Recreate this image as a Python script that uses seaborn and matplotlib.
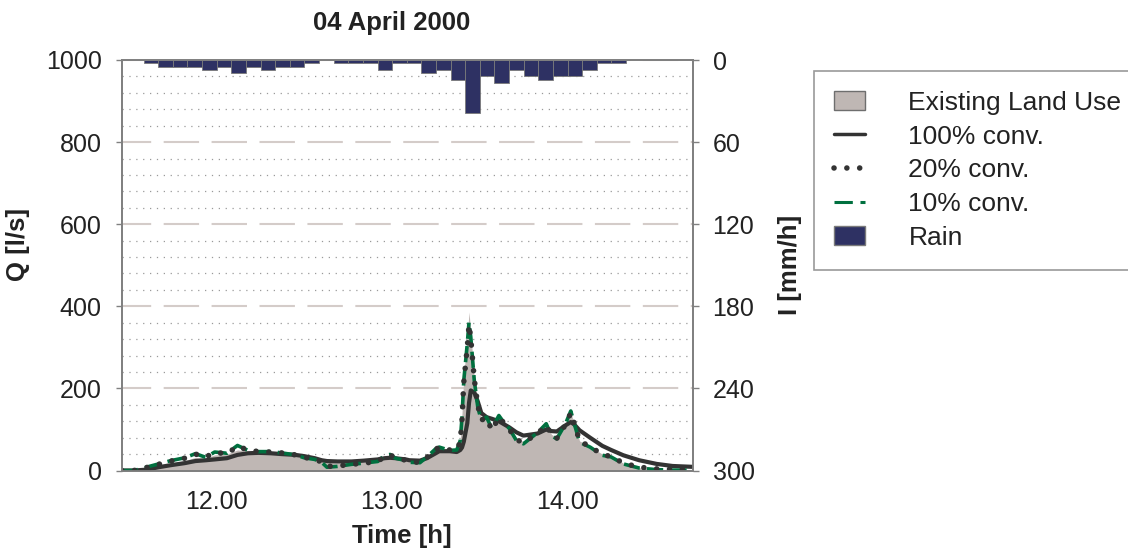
import matplotlib

matplotlib.use("Agg")

import matplotlib.pyplot as plt
import matplotlib.transforms as mtransforms
import pandas as pd
import seaborn as sns
from matplotlib.lines import Line2D
from matplotlib.patches import Patch
from matplotlib.ticker import FormatStrFormatter, MultipleLocator

TITLE = "04 April 2000"

# runoff hydrograph: time in decimal hours, discharge Q in l/s
time_h = [11.50, 11.57, 11.64, 11.71, 11.78, 11.86, 11.92, 11.98, 12.03, 12.10,
          12.16, 12.22, 12.28, 12.35, 12.41, 12.49, 12.54, 12.60, 12.64, 12.67,
          12.73, 12.81, 12.88, 12.96, 13.00, 13.03, 13.06, 13.12, 13.14, 13.20,
          13.24, 13.29, 13.31, 13.37, 13.41, 13.43, 13.44, 13.45, 13.47, 13.48,
          13.49, 13.51, 13.53, 13.55, 13.58, 13.61, 13.65, 13.67, 13.71, 13.75,
          13.79, 13.87, 13.92, 13.95, 13.98, 14.03, 14.06, 14.08, 14.11, 14.17,
          14.24, 14.29, 14.36, 14.45, 14.55, 14.64, 14.75]

existing_land_use = [0, 0, 4, 10, 17, 24, 32, 30, 38, 40,
                     50, 47, 45, 44, 42, 38, 33, 28, 24, 20,
                     18, 19, 21, 24, 33, 35, 30, 25, 22, 21,
                     32, 50, 54, 49, 50, 75, 140, 230, 330, 386,
                     335, 225, 160, 128, 128, 108, 130, 122, 104, 80,
                     70, 90, 112, 88, 80, 112, 140, 115, 72, 58,
                     40, 34, 18, 7, 3, 2, 2]

conv_100 = [0, 0, 2, 8, 13, 18, 23, 25, 27, 30,
            38, 42, 43, 42, 40, 38, 35, 30, 25, 23,
            22, 22, 24, 27, 30, 31, 30, 27, 25, 24,
            30, 42, 47, 47, 45, 50, 56, 70, 115, 165,
            195, 190, 168, 140, 130, 126, 120, 115, 105, 93,
            85, 90, 100, 96, 95, 110, 118, 112, 98, 80,
            60, 50, 37, 25, 16, 11, 9]

conv_20 = [0, 0, 7, 15, 23, 30, 40, 33, 44, 41,
           59, 50, 46, 45, 43, 38, 32, 27, 21, 10,
           11, 15, 18, 22, 35, 38, 31, 25, 21, 20,
           32, 52, 56, 50, 50, 70, 125, 215, 300, 355,
           322, 222, 158, 123, 128, 98, 130, 120, 100, 75,
           68, 90, 110, 86, 78, 112, 140, 115, 72, 58,
           39, 34, 18, 8, 4, 3, 3]

conv_10 = [0, 0, 8, 16, 24, 31, 41, 32, 45, 42,
           61, 49, 46, 46, 43, 38, 31, 27, 20, 8,
           10, 15, 18, 22, 37, 39, 30, 24, 20, 19,
           33, 53, 57, 49, 50, 73, 130, 219, 309, 362,
           325, 219, 154, 122, 130, 102, 134, 122, 102, 73,
           65, 92, 114, 85, 77, 114, 145, 114, 69, 57,
           37, 33, 16, 6, 2, 1, 1]

# 5-minute rain intensity in mm/h
rain_clock = ["11:40", "11:45", "11:50", "11:55", "12:00", "12:05", "12:10",
              "12:15", "12:20", "12:25", "12:30", "12:35", "12:40", "12:45",
              "12:50", "12:55", "13:00", "13:05", "13:10", "13:15", "13:20",
              "13:25", "13:30", "13:35", "13:40", "13:45", "13:50", "13:55",
              "14:00", "14:05", "14:10", "14:15", "14:20"]
rain_mmh = [2.4, 4.8, 4.8, 4.8, 7.2, 4.8, 9.6, 4.8, 7.2, 4.8, 4.8, 2.4, 0.0,
            2.4, 2.4, 2.4, 7.2, 2.4, 2.4, 9.6, 7.2, 14.4, 38.4, 12.0, 16.8,
            7.2, 12.0, 14.4, 12.0, 12.0, 7.2, 2.4, 2.4]

q_ticks = [0, 200, 400, 600, 800, 1000]
i_ticks = [0, 60, 120, 180, 240, 300]

FILL = "#bfb7b4"
DARK = "#333333"
GREEN = "#00703f"
NAVY = "#2e3163"
SPINE = "#808080"
TEXT = "#222222"

sns.set_style("white")
plt.rcParams["font.family"] = ["Liberation Sans", "DejaVu Sans"]

flow = pd.DataFrame({
    "time": time_h,
    "existing": existing_land_use,
    "conv_100": conv_100,
    "conv_20": conv_20,
    "conv_10": conv_10,
})
rain = pd.DataFrame({"clock": rain_clock, "intensity": rain_mmh})
rain["time"] = [int(c[:2]) + int(c[3:]) / 60 for c in rain["clock"]]

W, H = 1128, 550
fig = plt.figure(figsize=(W / 100, H / 100), dpi=100)
ax = fig.add_axes([121.7 / W, 1 - 470.5 / H, (692.7 - 121.7) / W, (470.5 - 60) / H])

ax.fill_between(flow["time"], flow["existing"], color=FILL, lw=0, zorder=1)
sns.lineplot(data=flow, x="time", y="conv_100", ax=ax, color=DARK, lw=3,
             estimator=None, sort=False, zorder=3)
sns.lineplot(data=flow, x="time", y="conv_10", ax=ax, color=GREEN, lw=2.6,
             linestyle=(0, (4.5, 2)), estimator=None, sort=False, zorder=4)
sns.lineplot(data=flow, x="time", y="conv_20", ax=ax, color=DARK, lw=4,
             linestyle=(0, (0.01, 2.3)), dash_capstyle="round",
             estimator=None, sort=False, zorder=5)

ax.set_xlim(11.5, 14.755)
ax.set_ylim(0, 1000)
ax.set_xlabel("")
ax.set_ylabel("")

ax.xaxis.set_major_locator(MultipleLocator(1))
ax.xaxis.set_major_formatter(FormatStrFormatter("%.2f"))
ax.xaxis.set_minor_locator(MultipleLocator(0.5))
ax.set_yticks(q_ticks)
ax.yaxis.set_minor_locator(MultipleLocator(40))

ax.set_axisbelow(True)
ax.grid(axis="y", which="major", color="#d4ccc9", lw=1.5, linestyle=(3, (17, 6)))
ax.grid(axis="y", which="minor", color="#9a9a9a", lw=0.9, linestyle=(0, (1, 4.5)))

ax.tick_params(axis="both", which="major", direction="out", length=4.3, width=1,
               color=SPINE, labelsize=18, labelcolor=TEXT, pad=10)
ax.tick_params(axis="x", which="minor", direction="out", length=4.3, width=1, color=SPINE)
ax.tick_params(axis="y", which="minor", length=0)

# rain hyetograph hanging from the top, on an inverted right axis
ax2 = ax.twinx()
ax2.bar(rain["time"], rain["intensity"], width=5 / 60, color=NAVY,
        edgecolor="#7a7a7a", lw=0.6, zorder=2)
ax2.set_ylim(300, 0)
ax2.set_yticks(i_ticks)
ax2.tick_params(axis="y", direction="out", length=4.3, width=1, color=SPINE,
                labelsize=18, labelcolor=TEXT, pad=10)
ax2.grid(False)

for a in (ax, ax2):
    for sp in a.spines.values():
        sp.set_visible(True)
        sp.set_color(SPINE)
        sp.set_linewidth(1.3)

# x tick labels sit slightly right of their ticks in the original
shift = mtransforms.ScaledTranslation(7 / 100, 0, fig.dpi_scale_trans)
for lbl in ax.get_xticklabels():
    lbl.set_transform(lbl.get_transform() + shift)

fig.text(392 / W, 1 - 23 / H, TITLE, ha="center", va="center", fontsize=18.5,
         fontweight="bold", color=TEXT)
fig.text(402 / W, 1 - 536 / H, "Time [h]", ha="center", va="center",
         fontsize=18.5, fontweight="bold", color=TEXT)
fig.text(18 / W, 1 - 244 / H, "Q [l/s]", ha="center", va="center", rotation=90,
         fontsize=18.5, fontweight="bold", color=TEXT)
fig.text(790 / W, 1 - 265 / H, "I [mm/h]", ha="center", va="center", rotation=90,
         fontsize=18.5, fontweight="bold", color=TEXT)

handles = [
    Patch(facecolor=FILL, edgecolor="#6e6e6e", lw=1),
    Line2D([], [], color=DARK, lw=2.5),
    Line2D([], [], color=DARK, lw=4, linestyle=(0, (0.01, 2.3)), dash_capstyle="round"),
    Line2D([], [], color=GREEN, lw=2.2, linestyle=(0, (6, 2.5))),
    Patch(facecolor=NAVY, edgecolor="#7a7a7a", lw=1),
]
labels = ["Existing Land Use", "100% conv.", "20% conv.", "10% conv.", "Rain"]
leg = fig.legend(handles, labels, loc="upper left",
                 bbox_to_anchor=(814 / W, 1 - 71 / H), fontsize=19,
                 handlelength=1.2, handletextpad=1.63, labelspacing=0.37,
                 borderpad=0.75, borderaxespad=0, fancybox=False, frameon=True,
                 edgecolor=SPINE)
leg.get_frame().set_linewidth(1.2)
for t in leg.get_texts():
    t.set_color(TEXT)

fig.savefig("out.png", dpi=100)
